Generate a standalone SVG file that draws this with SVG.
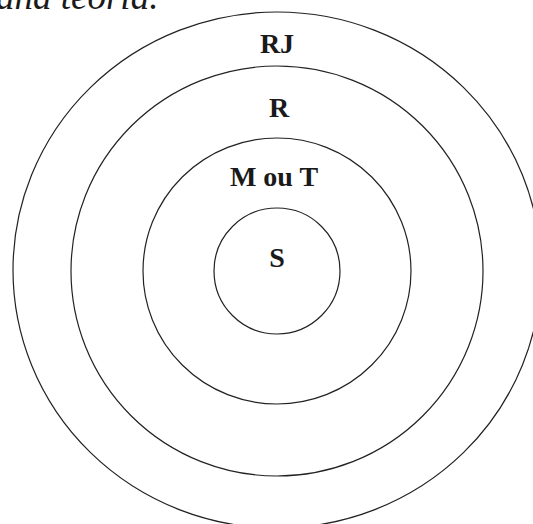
<svg xmlns="http://www.w3.org/2000/svg" width="533" height="524" viewBox="0 0 533 524">
<style>
.ring{fill:none;stroke:#222;stroke-width:1.2}
.lbl{font-family:"Liberation Serif","Times New Roman",serif;font-weight:bold;font-size:28px;fill:#1a1a1a;text-anchor:middle}
.top{font-family:"Liberation Serif","Times New Roman",serif;font-style:italic;font-size:37px;fill:#1a1a1a}
</style>
<rect width="533" height="524" fill="#fff"/>
<text class="top" x="-4" y="9">ana teoria.</text>
<g id="ring-RJ"><ellipse class="ring" cx="277" cy="270" rx="264" ry="258"/><text class="lbl" x="277" y="53">RJ</text></g>
<g id="ring-R"><ellipse class="ring" cx="277" cy="271" rx="206" ry="205"/><text class="lbl" x="279" y="117">R</text></g>
<g id="ring-MT"><ellipse class="ring" cx="277" cy="271" rx="134" ry="133"/><text class="lbl" x="274" y="186">M ou T</text></g>
<g id="ring-S"><circle class="ring" cx="277" cy="271" r="63"/><text class="lbl" x="277" y="267">S</text></g>
<g id="connectors"/>
</svg>
